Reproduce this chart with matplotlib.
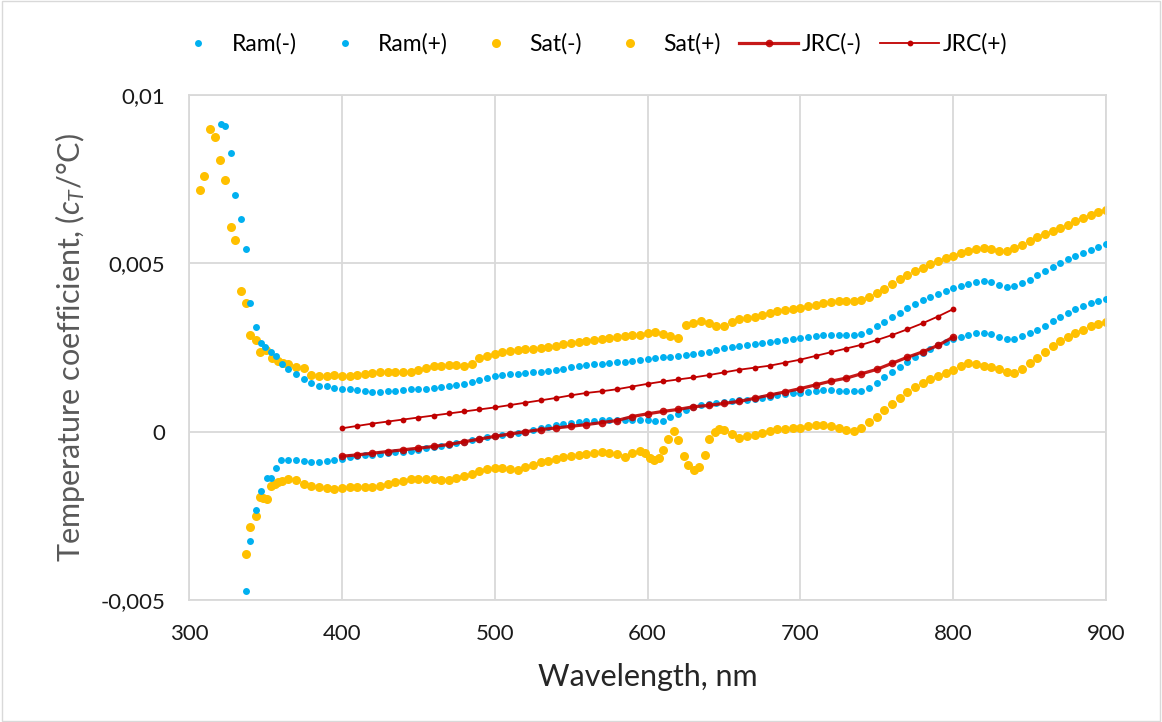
import numpy as np
import matplotlib
matplotlib.use("Agg")
import matplotlib.pyplot as plt
from matplotlib.ticker import FuncFormatter


# 色
RAM_COLOR = "#00B0F0"
SAT_COLOR = "#FFC000"
JRC_COLOR = "#C00000"

# 300-365nm の疎な点
ram_p_head_wl = [320.9, 323.8, 327.3, 330.3, 334.0, 337.1, 340.1, 343.8, 346.9, 350.0, 353.5, 356.9, 360.7]
ram_p_head = [0.00914, 0.00907, 0.00829, 0.00703, 0.00633, 0.00544, 0.00382, 0.00310, 0.00262, 0.00250,
              0.00236, 0.00224, 0.00200]
ram_m_head_wl = [337.1, 340.1, 343.8, 346.9, 350.8, 353.6, 356.9, 360.0]
ram_m_head = [-0.00472, -0.00324, -0.00232, -0.00177, -0.00138, -0.00138, -0.00108, -0.00085]
sat_p_head_wl = [307.2, 310.0, 313.9, 316.8, 320.5, 323.6, 327.3, 330.3, 334.0, 337.1, 339.9, 343.8,
                 346.5, 350.4, 354.1, 358.4, 361.5]
sat_p_head = [0.00717, 0.00760, 0.00900, 0.00876, 0.00808, 0.00747, 0.00608, 0.00570, 0.00419, 0.00381,
              0.00287, 0.00273, 0.00236, 0.00242, 0.00219, 0.00209, 0.00204]
sat_m_head_wl = [337.1, 339.9, 343.8, 346.5, 348.5, 350.8, 353.4, 356.0, 358.4, 361.0]
sat_m_head = [-0.00363, -0.00283, -0.00250, -0.00195, -0.00197, -0.00199, -0.00162, -0.00155, -0.00151, -0.00147]

# 365-900nm (5nm刻み)
grid_wl = np.arange(365, 901, 5)
ram_p = [0.00185, 0.00172, 0.00157, 0.00144, 0.00137, 0.00135, 0.00131, 0.00127, 0.00127, 0.00125,
         0.00122, 0.00119, 0.00118, 0.00120, 0.00122, 0.00124, 0.00126, 0.00127, 0.00128, 0.00130,
         0.00133, 0.00137, 0.00140, 0.00143, 0.00148, 0.00154, 0.00159, 0.00164, 0.00167, 0.00170,
         0.00172, 0.00174, 0.00176, 0.00178, 0.00180, 0.00184, 0.00187, 0.00191, 0.00195, 0.00198,
         0.00200, 0.00202, 0.00204, 0.00206, 0.00208, 0.00210, 0.00212, 0.00215, 0.00218, 0.00221,
         0.00223, 0.00225, 0.00227, 0.00231, 0.00234, 0.00237, 0.00242, 0.00249, 0.00252, 0.00254,
         0.00256, 0.00259, 0.00262, 0.00265, 0.00268, 0.00272, 0.00275, 0.00278, 0.00281, 0.00285,
         0.00287, 0.00288, 0.00288, 0.00288, 0.00287, 0.00290, 0.00300, 0.00313, 0.00326, 0.00340,
         0.00353, 0.00366, 0.00378, 0.00390, 0.00401, 0.00410, 0.00419, 0.00426, 0.00432, 0.00439,
         0.00445, 0.00447, 0.00444, 0.00437, 0.00431, 0.00433, 0.00441, 0.00451, 0.00464, 0.00477,
         0.00490, 0.00502, 0.00512, 0.00522, 0.00531, 0.00541, 0.00550, 0.00557]
ram_m = [-0.00084, -0.00085, -0.00088, -0.00090, -0.00090, -0.00088, -0.00083, -0.00080, -0.00076, -0.00072,
         -0.00069, -0.00068, -0.00066, -0.00064, -0.00061, -0.00059, -0.00056, -0.00053, -0.00050, -0.00047,
         -0.00044, -0.00040, -0.00035, -0.00031, -0.00026, -0.00021, -0.00017, -0.00014, -0.00010, -0.00006,
         -0.00003, 0.00000, 0.00005, 0.00010, 0.00015, 0.00020, 0.00024, 0.00027, 0.00030, 0.00032,
         0.00033, 0.00034, 0.00035, 0.00035, 0.00036, 0.00036, 0.00036, 0.00035, 0.00033, 0.00032,
         0.00043, 0.00053, 0.00063, 0.00072, 0.00078, 0.00082, 0.00086, 0.00089, 0.00091, 0.00093,
         0.00095, 0.00097, 0.00100, 0.00104, 0.00108, 0.00111, 0.00114, 0.00116, 0.00119, 0.00121,
         0.00123, 0.00123, 0.00122, 0.00121, 0.00120, 0.00122, 0.00131, 0.00145, 0.00161, 0.00177,
         0.00193, 0.00208, 0.00222, 0.00234, 0.00245, 0.00256, 0.00265, 0.00274, 0.00281, 0.00287,
         0.00292, 0.00293, 0.00289, 0.00282, 0.00276, 0.00276, 0.00283, 0.00292, 0.00303, 0.00315,
         0.00329, 0.00342, 0.00353, 0.00363, 0.00373, 0.00382, 0.00389, 0.00395]
sat_p = [0.00200, 0.00192, 0.00188, 0.00168, 0.00164, 0.00166, 0.00168, 0.00166, 0.00164, 0.00168,
         0.00170, 0.00175, 0.00176, 0.00176, 0.00177, 0.00176, 0.00178, 0.00183, 0.00190, 0.00194,
         0.00196, 0.00199, 0.00198, 0.00196, 0.00200, 0.00218, 0.00226, 0.00232, 0.00236, 0.00241,
         0.00244, 0.00245, 0.00246, 0.00248, 0.00250, 0.00255, 0.00260, 0.00264, 0.00267, 0.00270,
         0.00273, 0.00275, 0.00278, 0.00282, 0.00285, 0.00286, 0.00287, 0.00292, 0.00297, 0.00291,
         0.00283, 0.00279, 0.00316, 0.00322, 0.00328, 0.00324, 0.00313, 0.00314, 0.00325, 0.00334,
         0.00337, 0.00341, 0.00346, 0.00352, 0.00357, 0.00360, 0.00364, 0.00368, 0.00372, 0.00377,
         0.00382, 0.00386, 0.00388, 0.00388, 0.00387, 0.00390, 0.00400, 0.00412, 0.00424, 0.00438,
         0.00452, 0.00465, 0.00476, 0.00487, 0.00498, 0.00508, 0.00517, 0.00523, 0.00530, 0.00538,
         0.00544, 0.00545, 0.00543, 0.00537, 0.00538, 0.00545, 0.00555, 0.00566, 0.00577, 0.00587,
         0.00596, 0.00605, 0.00615, 0.00625, 0.00635, 0.00645, 0.00653, 0.00658]

# Sat(-) は 600-650nm で乱れる
sat_m_a_wl = np.arange(365, 596, 5)
sat_m_a = [-0.00142, -0.00145, -0.00155, -0.00160, -0.00164, -0.00166, -0.00170, -0.00168, -0.00164, -0.00163,
           -0.00164, -0.00165, -0.00162, -0.00154, -0.00150, -0.00146, -0.00142, -0.00140, -0.00140, -0.00141,
           -0.00143, -0.00145, -0.00138, -0.00131, -0.00125, -0.00118, -0.00112, -0.00108, -0.00109, -0.00112,
           -0.00114, -0.00106, -0.00098, -0.00091, -0.00086, -0.00081, -0.00075, -0.00071, -0.00068, -0.00066,
           -0.00063, -0.00061, -0.00063, -0.00067, -0.00075, -0.00062, -0.00057]
sat_m_dip_wl = [598.5, 601.7, 604.5, 607.7, 610.3, 613.6, 617.6, 620.2, 624.0, 626.8, 630.4, 633.9,
                637.6, 640.5, 644.2, 647.0]
sat_m_dip = [-0.00062, -0.00078, -0.00083, -0.00078, -0.00053, -0.00022, 0.00003, -0.00026, -0.00071,
             -0.00098, -0.00115, -0.00105, -0.00068, -0.00022, 0.00000, 0.00007]
sat_m_b_wl = np.arange(650, 901, 5)
sat_m_b = [0.00006, -0.00008, -0.00020, -0.00014, -0.00009, -0.00004, 0.00002, 0.00007, 0.00009, 0.00010,
           0.00011, 0.00018, 0.00021, 0.00019, 0.00016, 0.00012, 0.00005, 0.00001, 0.00010, 0.00028,
           0.00045, 0.00064, 0.00082, 0.00100, 0.00117, 0.00133, 0.00146, 0.00157, 0.00166, 0.00175,
           0.00183, 0.00195, 0.00203, 0.00202, 0.00196, 0.00191, 0.00185, 0.00178, 0.00175, 0.00185,
           0.00203, 0.00220, 0.00238, 0.00254, 0.00268, 0.00281, 0.00292, 0.00302, 0.00313, 0.00320,
           0.00325]

# JRC (10nm刻み)
jrc_wl = np.arange(400, 801, 10)
jrc_m = [-0.00073, -0.00069, -0.00064, -0.00059, -0.00054, -0.00049, -0.00044, -0.00038, -0.00030, -0.00022,
         -0.00014, -0.00007, 0.00000, 0.00006, 0.00011, 0.00016, 0.00021, 0.00027, 0.00033, 0.00045,
         0.00053, 0.00060, 0.00066, 0.00074, 0.00078, 0.00084, 0.00090, 0.00099, 0.00109, 0.00118,
         0.00128, 0.00139, 0.00150, 0.00159, 0.00172, 0.00185, 0.00203, 0.00221, 0.00237, 0.00256,
         0.00281]
jrc_p = [0.00010, 0.00017, 0.00024, 0.00030, 0.00036, 0.00042, 0.00048, 0.00054, 0.00060, 0.00066,
         0.00072, 0.00079, 0.00086, 0.00093, 0.00100, 0.00108, 0.00115, 0.00120, 0.00126, 0.00134,
         0.00142, 0.00149, 0.00155, 0.00161, 0.00168, 0.00176, 0.00184, 0.00190, 0.00196, 0.00205,
         0.00214, 0.00225, 0.00236, 0.00247, 0.00258, 0.00272, 0.00287, 0.00304, 0.00322, 0.00342,
         0.00364]

x_ticks = [300, 400, 500, 600, 700, 800, 900]
y_ticks = [-0.005, 0, 0.005, 0.01]


plt.rcParams['font.family'] = ['Lato', 'DejaVu Sans']
plt.rcParams['mathtext.fontset'] = 'custom'
plt.rcParams['mathtext.it'] = 'Lato:italic'
plt.rcParams['mathtext.rm'] = 'Lato'

fig = plt.figure(figsize=(11.62, 7.22), dpi=100)
ax = fig.add_axes([0.1627, 0.169, 0.7891, 0.6994])

ram_m_wl = list(ram_m_head_wl) + list(grid_wl)
ram_p_wl = list(ram_p_head_wl) + list(grid_wl)
sat_m_wl = list(sat_m_head_wl) + list(sat_m_a_wl) + list(sat_m_dip_wl) + list(sat_m_b_wl)
sat_p_wl = list(sat_p_head_wl) + list(grid_wl)

ax.plot(ram_m_wl, ram_m_head + ram_m, 'o', color=RAM_COLOR, ms=5, mew=0, label='Ram(-)', zorder=3)
ax.plot(ram_p_wl, ram_p_head + ram_p, 'o', color=RAM_COLOR, ms=5, mew=0, label='Ram(+)', zorder=3)
ax.plot(sat_m_wl, sat_m_head + sat_m_a + sat_m_dip + sat_m_b, 'o', color=SAT_COLOR, ms=6.5, mew=0,
        label='Sat(-)', zorder=2)
ax.plot(sat_p_wl, sat_p_head + sat_p, 'o', color=SAT_COLOR, ms=6.5, mew=0, label='Sat(+)', zorder=2)
ax.plot(jrc_wl, jrc_m, '-o', color=JRC_COLOR, lw=2.3, ms=5.5, mew=0, alpha=0.9, label='JRC(-)', zorder=4)
ax.plot(jrc_wl, jrc_p, '-o', color=JRC_COLOR, lw=1.3, ms=4.2, mew=0, label='JRC(+)', zorder=4)

ax.set_xlim(300, 900)
ax.set_ylim(-0.005, 0.01)
ax.set_xticks(x_ticks)
ax.set_yticks(y_ticks)
ax.yaxis.set_major_formatter(FuncFormatter(lambda v, p: f"{v:g}".replace('.', ',')))
ax.tick_params(length=0, labelsize=16, colors='#1a1a1a', pad=17)
ax.grid(True, color='#D9D9D9', lw=1.3)
ax.set_axisbelow(True)
for s in ax.spines.values():
    s.set_color('#D9D9D9')
    s.set_linewidth(1.3)

ax.set_xlabel('Wavelength, nm', fontsize=22, color='#262626', labelpad=14)
ax.set_ylabel('Temperature coefficient, ($c_T$/°C)', fontsize=22, color='#595959', labelpad=10)

fig.legend(loc='center', bbox_to_anchor=(0.506, 0.939), ncol=6, frameon=False, fontsize=16.5,
           handlelength=2.6, columnspacing=0.8, handletextpad=0.15)

# 図の枠
fig.patches.append(plt.Rectangle((0.002, 0.002), 0.996, 0.996, transform=fig.transFigure,
                                 fill=False, ec='#D9D9D9', lw=1))

fig.savefig('out.png', dpi=100)
